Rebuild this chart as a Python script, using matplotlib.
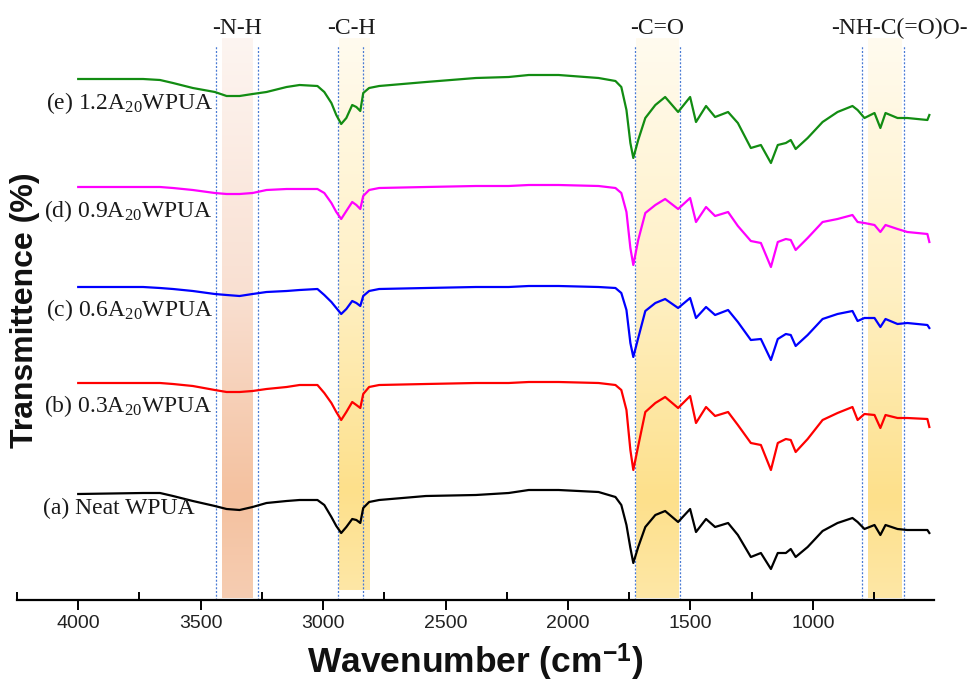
import matplotlib
matplotlib.use("Agg")
import matplotlib.pyplot as plt
import numpy as np
from matplotlib.colors import LinearSegmentedColormap

# ---------------- data ----------------
wavenumber = [4000, 3735, 3666, 3613, 3532, 3442, 3394, 3341, 3288, 3231,
              3149, 3096, 3023, 2995, 2966, 2946, 2926, 2905, 2881, 2864,
              2848, 2836, 2812, 2771, 2580, 2376, 2242, 2160, 2038, 1875,
              1806, 1782, 1761, 1745, 1733, 1713, 1684, 1643, 1603, 1550,
              1501, 1477, 1436, 1399, 1346, 1306, 1253, 1212, 1171, 1143,
              1110, 1090, 1070, 1021, 960, 899, 838, 817, 789, 748,
              724, 703, 654, 614, 532, 524]

T_e = [521, 521, 520, 517, 512, 508, 504, 504, 506, 508,
       513, 515, 514, 508, 497, 485, 476, 482, 495, 493,
       489, 507, 512, 514, 518, 522, 523, 525, 525, 522,
       519, 513, 490, 457, 442, 460, 482, 495, 503, 488,
       503, 478, 494, 483, 488, 477, 452, 455, 437, 455,
       457, 460, 451, 462, 478, 488, 494, 490, 482, 487,
       472, 487, 482, 482, 480, 485]

T_d = [413, 413, 413, 412, 410, 407, 406, 406, 407, 410,
       411, 411, 411, 407, 397, 388, 381, 389, 398, 395,
       391, 404, 410, 412, 413, 414, 414, 415, 415, 414,
       412, 407, 388, 352, 335, 360, 387, 395, 401, 391,
       402, 378, 393, 384, 388, 374, 359, 357, 333, 358,
       361, 360, 350, 362, 378, 381, 385, 378, 377, 375,
       368, 375, 371, 368, 366, 358]

T_c = [313, 313, 312, 311, 309, 306, 305, 304, 306, 308,
       309, 310, 311, 305, 298, 292, 286, 291, 299, 297,
       294, 304, 309, 311, 312, 313, 313, 314, 314, 313,
       312, 307, 290, 257, 243, 262, 289, 297, 301, 292,
       302, 282, 293, 285, 290, 278, 260, 261, 240, 261,
       266, 265, 254, 265, 281, 286, 289, 279, 282, 282,
       273, 281, 276, 277, 275, 272]

T_b = [217, 217, 217, 216, 214, 210, 208, 208, 209, 211,
       213, 215, 215, 207, 197, 188, 180, 188, 198, 195,
       192, 206, 213, 215, 216, 217, 217, 218, 218, 217,
       215, 210, 190, 150, 130, 154, 188, 197, 203, 192,
       204, 177, 193, 184, 188, 175, 157, 155, 130, 157,
       161, 160, 148, 161, 180, 187, 193, 180, 186, 185,
       172, 185, 182, 182, 181, 173]

T_a = [106, 107, 107, 104, 99, 94, 91, 90, 93, 97,
       99, 100, 100, 95, 83, 74, 67, 73, 81, 80,
       77, 92, 98, 100, 104, 105, 107, 110, 110, 108,
       103, 95, 75, 52, 37, 53, 73, 85, 89, 78,
       91, 68, 81, 73, 77, 65, 43, 47, 31, 47,
       47, 51, 43, 53, 69, 77, 82, 78, 71, 75,
       65, 75, 71, 70, 70, 67]

series = [T_e, T_d, T_c, T_b, T_a]
series_labels = ["(e) 1.2A$_{20}$WPUA", "(d) 0.9A$_{20}$WPUA", "(c) 0.6A$_{20}$WPUA",
                 "(b) 0.3A$_{20}$WPUA", "(a) Neat WPUA"]
series_colors = ["#128c12", "#ff00ff", "#0000ff", "#ff0000", "#000000"]

# band: label, dashed-line positions, shaded range, label position
band_labels = ["-N-H", "-C-H", "-C=O", "-NH-C(=O)O-"]
band_lines = [(3436, 3265), (2941, 2838), (1727, 1543), (798, 628)]
band_shade = [(3411, 3287), (2937, 2811), (1720, 1546), (775, 639)]
band_label_pos = [3350, 2885, 1635, 646]
band_kind = ["peach", "yellow", "yellow", "yellow"]

major_ticks = [4000, 3500, 3000, 2500, 2000, 1500, 1000]
minor_ticks = [4250, 3750, 3250, 2750, 2250, 1750, 1250, 750]

# ---------------- style ----------------
plt.rcParams["mathtext.fontset"] = "custom"
plt.rcParams["mathtext.rm"] = "Liberation Serif"
plt.rcParams["mathtext.it"] = "Liberation Serif:italic"
plt.rcParams["mathtext.bf"] = "Liberation Sans:bold"
plt.rcParams["mathtext.default"] = "rm"

W, H = 969, 685
fig = plt.figure(figsize=(W / 100, H / 100), dpi=100)
ax_left, ax_right, ax_bottom_px, ax_top_px = 17, 934, 600, 30
ax = fig.add_axes([ax_left / W, 1 - ax_bottom_px / H, (ax_right - ax_left) / W,
                   (ax_bottom_px - ax_top_px) / H])
XL = (4250, 505)
YL = (0, 570)

cmaps = {
    "peach": LinearSegmentedColormap.from_list(
        "peach", [(0.0, "#fdf5f1"), (0.45, "#f9e0d2"), (0.82, "#f4c19f"), (1.0, "#f6cdb2")]),
    "yellow": LinearSegmentedColormap.from_list(
        "yel", [(0.0, "#fffbef"), (0.45, "#fff0c4"), (0.82, "#fde08b"), (1.0, "#fee7a6")]),
}
grad = np.linspace(0, 1, 256).reshape(-1, 1)
for i, (s0, s1) in enumerate(band_shade):
    bottom = 10 if band_labels[i] == "-C-H" else 2
    ax.imshow(grad, extent=[s0, s1, bottom, 562], origin="upper", aspect="auto",
              cmap=cmaps[band_kind[i]], zorder=0, interpolation="bilinear")
    for xv in band_lines[i]:
        ax.plot([xv, xv], [0, 555], color="#4a7bd4", lw=0.9,
                linestyle=(0, (1.6, 1.4)), zorder=1)
    ax.text(band_label_pos[i], 572, band_labels[i], ha="center", va="center",
            fontsize=17, family="Liberation Serif", color="#1a1a1a", clip_on=False)

for T, c in zip(series, series_colors):
    ax.plot(wavenumber, T, color=c, lw=1.6, zorder=3, solid_joinstyle="round")

ax.set_xlim(*XL)
ax.set_ylim(*YL)

for sp in ["left", "right", "top"]:
    ax.spines[sp].set_visible(False)
ax.spines["bottom"].set_linewidth(1.6)
ax.set_yticks([])
ax.set_xticks(major_ticks)
ax.set_xticks(minor_ticks, minor=True)
ax.tick_params(axis="x", which="major", direction="out", length=7, width=1.4,
               labelsize=14, pad=4, labelcolor="#222222")
ax.tick_params(axis="x", which="minor", direction="in", length=6, width=1.4)
for lab in ax.get_xticklabels():
    lab.set_family("Liberation Sans")
ax.patch.set_alpha(0)

# series labels
label_y = [103, 211, 310, 406, 508]
label_right = [213, 213, 213, 213, 195]
for txt, yy, xr in zip(series_labels, label_y, label_right):
    fig.text(xr / W, 1 - yy / H, txt, ha="right", va="center", fontsize=17,
             family="Liberation Serif", color="#1a1a1a")

fig.text(25 / W, 1 - 310 / H, "Transmittence (%)", rotation=90, ha="center", va="center",
         fontsize=23, fontweight="bold", family="Liberation Sans", color="#111111")
fig.text(475 / W, 1 - 663 / H, "Wavenumber (cm$^{\\mathbf{-1}}$)", ha="center", va="center",
         fontsize=25.5, fontweight="bold", family="Liberation Sans", color="#111111")

fig.savefig("out.png", dpi=100)
